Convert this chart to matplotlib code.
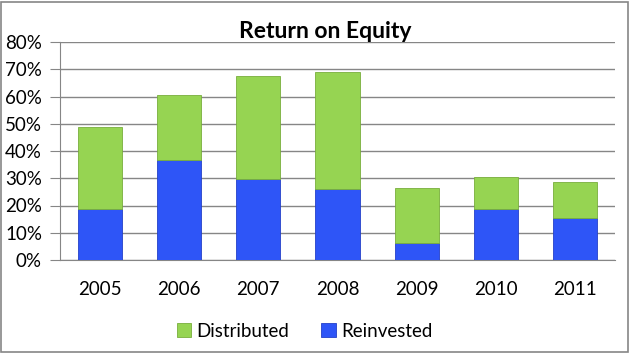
import matplotlib.pyplot as plt
import numpy as np
from matplotlib.ticker import PercentFormatter

years = ['2005', '2006', '2007', '2008', '2009', '2010', '2011']
reinvested = [18.7, 36.7, 29.6, 26.1, 6.1, 18.7, 15.3]
distributed = [30.2, 23.9, 38.0, 43.0, 20.2, 11.6, 13.4]

plt.rcParams['font.family'] = ['Lato', 'DejaVu Sans']

fig = plt.figure(figsize=(6.31, 3.53), dpi=100)
ax = fig.add_axes([60 / 631, 1 - 260 / 353, 555 / 631, 218 / 353])

x = np.arange(len(years))
w = 0.555
ax.bar(x, reinvested, w, color='#2E55F7', edgecolor='#2440C8', linewidth=0.6,
       label='Reinvested', zorder=3)
ax.bar(x, distributed, w, bottom=reinvested, color='#96D452', edgecolor='#78AE3C',
       linewidth=0.6, label='Distributed', zorder=3)

ax.set_xlim(-0.5, len(years) - 0.5)
ax.set_ylim(0, 80)
ax.set_yticks(np.arange(0, 81, 10))
ax.yaxis.set_major_formatter(PercentFormatter(decimals=0))
ax.set_xticks(x)
ax.set_xticklabels(years)
ax.tick_params(axis='y', length=7, color='#868686', labelsize=13.5, pad=6)
ax.tick_params(axis='x', length=0, labelsize=13.5, pad=15)
ax.grid(axis='y', color='#868686', linewidth=1, zorder=0)
for s in ['top', 'right']:
    ax.spines[s].set_visible(False)
for s in ['left', 'bottom']:
    ax.spines[s].set_color('#868686')

fig.text(0.516, 0.912, 'Return on Equity', ha='center', va='center',
         fontsize=16.5, fontweight='bold')

handles, labels = ax.get_legend_handles_labels()
fig.legend(handles[::-1], labels[::-1], loc='center', bbox_to_anchor=(0.483, 0.062),
           ncol=2, frameon=False, fontsize=13.5, handlelength=0.75, handleheight=0.75,
           columnspacing=1.7, handletextpad=0.3)

# outer chart border
fig.patches.append(plt.Rectangle((0.002, 0.004), 0.994, 0.99, transform=fig.transFigure,
                                 fill=False, edgecolor='#868686', linewidth=1.2))

plt.savefig('out.png', dpi=100)
